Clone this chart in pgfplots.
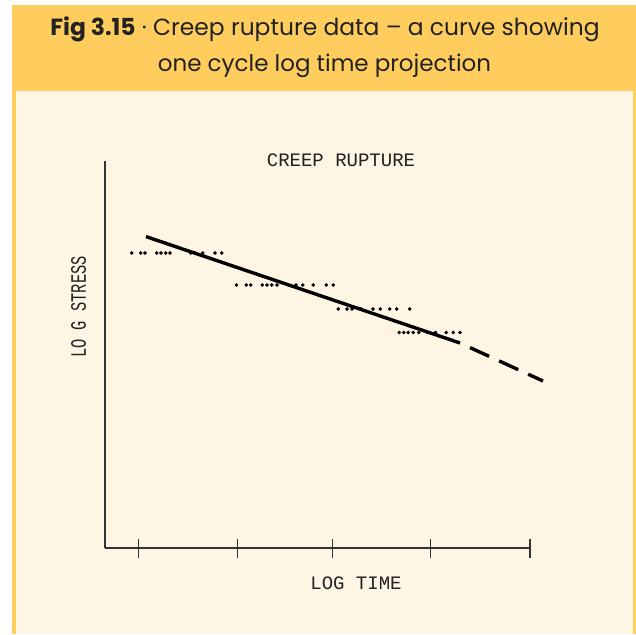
\documentclass[border=0pt]{standalone}
\usepackage{fontspec}
\usepackage{pgfplots}
\pgfplotsset{compat=1.18}
\setmainfont{Poppins}
\newfontfamily\cour{Liberation Mono}
\definecolor{band}{HTML}{FFCC5E}
\definecolor{cream}{HTML}{FFF5E4}
\definecolor{ink}{HTML}{333333}
\definecolor{tink}{HTML}{222222}
\begin{document}
\begin{tikzpicture}[x=1pt,y=1pt]
\useasboundingbox (0,0) rectangle (636,634);
\fill[white] (0,0) rectangle (636,634);
\fill[band] (12,0) rectangle (636,629);
\fill[cream] (16,0) rectangle (633,543);
\node[anchor=base, text=tink, font=\fontsize{23.4}{23.4}\selectfont] at (325,598) {\textbf{Fig 3.15} · Creep rupture data – a curve showing};
\node[anchor=base, text=tink, font=\fontsize{23}{23}\selectfont] at (324.5,562) {one cycle log time projection};
\begin{axis}[at={(105,86)}, anchor=south west, scale only axis,
  width=425pt, height=387pt, xmin=105, xmax=530, ymin=86, ymax=473,
  axis x line=bottom, axis y line=left,
  axis line style={-, draw=ink, line width=1.3pt},
  xtick={138.3,237.7,332.7,430.7,530}, xticklabels={}, ytick=\empty,
  tick align=center, major tick length=19pt,
  tick style={draw=ink, line width=1.4pt}, clip=false]
\addplot[only marks, mark=*, mark size=1.65pt, black] coordinates {
(131.7,381) (140.7,381) (145,381) (156.7,381) (161,381) (165.7,381) (170,381) (190.7,381) (195,381) (202.7,381) (215,381) (221.7,381)};
\addplot[only marks, mark=*, mark size=1.65pt, black] coordinates {
(236.5,349) (246.2,349) (250.7,349) (262.3,349) (267,349) (271.8,349) (277,349) (296,349) (302.7,349) (313.2,349) (326.2,349) (333.2,349)};
\addplot[only marks, mark=*, mark size=1.65pt, black] coordinates {
(338.3,325) (347,325) (352,325) (361,325) (373,325) (380.3,325) (389.7,325) (396.7,325) (409.7,325)};
\addplot[only marks, mark=*, mark size=1.65pt, black] coordinates {
(399.2,301.5) (403.7,301.5) (408.3,301.5) (413.3,301.5) (418.8,301.5) (427.5,301.5) (435.5,301.5) (446.3,301.5) (453.3,301.5) (460,301.5)};
\addplot[black, line width=3.4pt] coordinates {(146,397.4) (460,291)};
\addplot[black, line width=3.4pt, dash pattern=on 21pt off 11pt, dash phase=21pt] coordinates {(460,291) (543,253)};
\end{axis}
\node[text=tink, font=\cour\fontsize{19}{19}\selectfont] at (341,474) {CREEP RUPTURE};
\node[text=tink, font=\cour\fontsize{19}{19}\selectfont] at (356,51) {LOG TIME};
\node[text=tink, rotate=90] at (78.5,327) {\scalebox{0.7}[1]{\cour\fontsize{22}{22}\selectfont LO G STRESS}};
\end{tikzpicture}
\end{document}
